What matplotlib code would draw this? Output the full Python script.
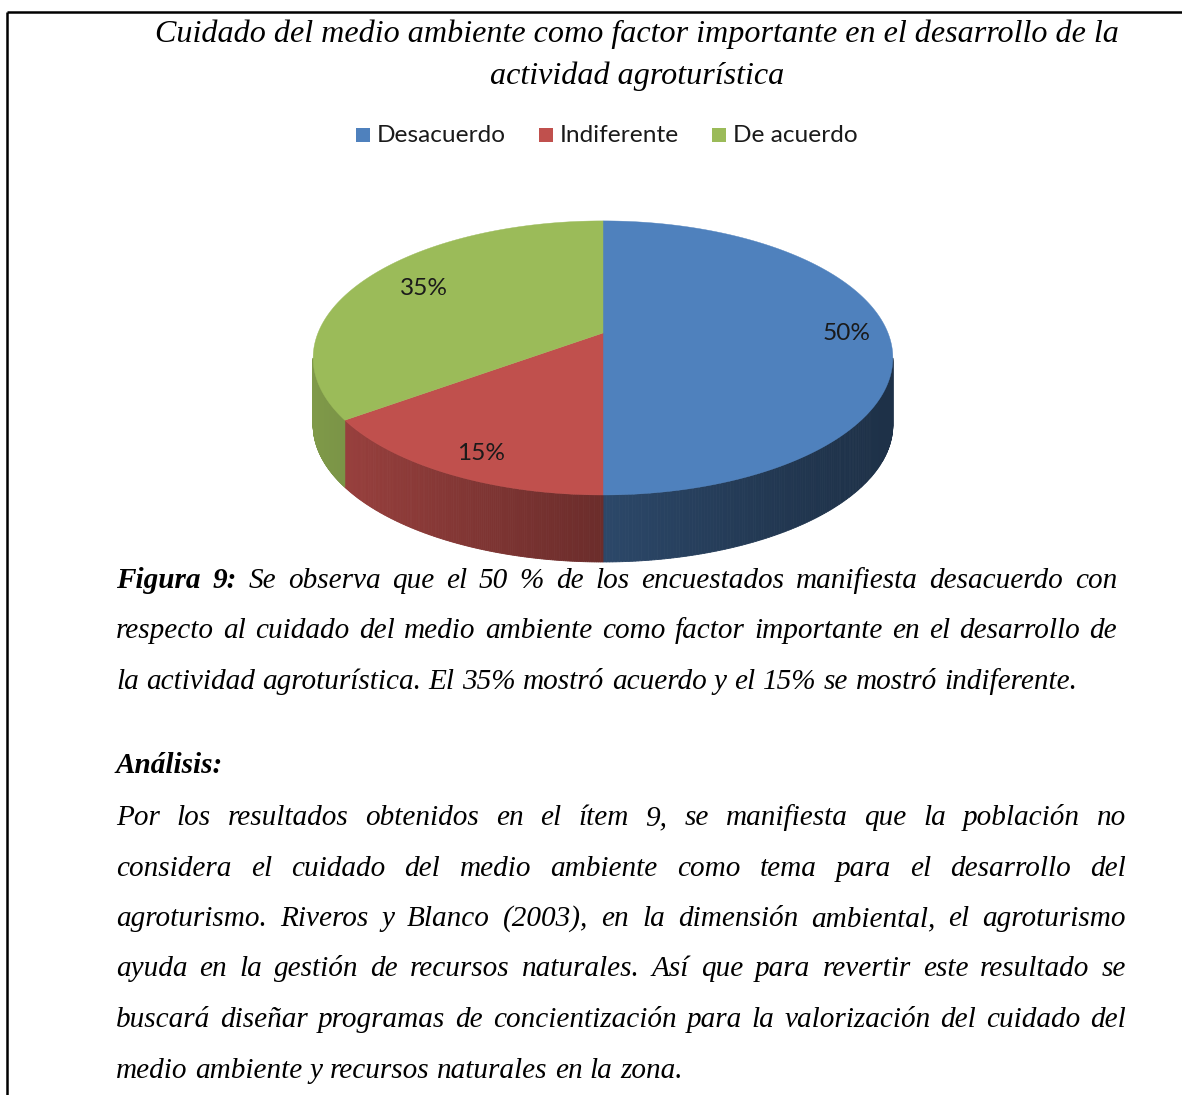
import numpy as np
import matplotlib
matplotlib.use("Agg")
import matplotlib.pyplot as plt
from matplotlib.patches import Polygon, Rectangle
from matplotlib.colors import to_rgb

# Chart data
categories = ["Desacuerdo", "Indiferente", "De acuerdo"]
percentages = [50, 15, 35]
slice_colors = ["#4F81BD", "#C0504D", "#9BBB59"]

title_lines = ["Cuidado del medio ambiente como factor importante en el desarrollo de la",
               "actividad agroturística"]

caption_lines = [
    "Figura 9: Se observa que el 50 % de los encuestados manifiesta desacuerdo con",
    "respecto al cuidado del medio ambiente como factor importante en el desarrollo de",
    "la actividad agroturística. El 35% mostró acuerdo y el 15% se mostró indiferente.",
]
analysis_head = "Análisis:"
analysis_lines = [
    "Por los resultados obtenidos en el ítem 9, se manifiesta que la población  no",
    "considera el cuidado del medio ambiente como tema  para el desarrollo del",
    "agroturismo. Riveros y Blanco (2003), en la dimensión ambiental, el agroturismo",
    "ayuda en la gestión de recursos naturales. Así que para revertir este resultado  se",
    "buscará diseñar programas de concientización para la valorización del cuidado del",
    "medio ambiente y recursos naturales en la zona.",
]

W, H = 1182, 1095
fig = plt.figure(figsize=(W / 100, H / 100), dpi=100)
ax = fig.add_axes([0, 0, 1, 1])
ax.set_xlim(0, W)
ax.set_ylim(H, 0)
ax.axis("off")
renderer = fig.canvas.get_renderer()

SERIF = "Liberation Serif"
SANS = "Lato"
BODY = 21.1

# frame lines of the page box
ax.plot([7, W], [12, 12], color="black", lw=1.8, solid_capstyle="butt")
ax.plot([7, 7], [12, H], color="black", lw=1.8, solid_capstyle="butt")

# title
for i, line in enumerate(title_lines):
    ax.text(637, 42 + 42 * i, line, family=SERIF, style="italic", fontsize=23.1,
            ha="center", va="baseline", color="black")

# legend
lx = 356
for cat, col in zip(categories, slice_colors):
    ax.add_patch(Rectangle((lx, 128), 13.5, 13.5, fc=col, ec="none"))
    t = ax.text(lx + 21, 135, cat, family=SANS, fontsize=17.6, ha="left",
                va="center", color="#1a1a1a")
    lx = lx + 21 + t.get_window_extent(renderer).width + 33

# 3D pie (perspective ellipse)
cx, cy = 603, 333
A, B, p = 285, 132.5, 0.182
depth = 67


def project(theta, r=1.0):
    u = r * np.sin(theta)
    v = -r * np.cos(theta)
    d = 1 - p * v
    return cx + A * u / d, cy + B * v / d


angles = np.concatenate([[0], np.cumsum(percentages)]) / sum(percentages) * 2 * np.pi
t_lo = np.arccos(-p)
t_hi = 2 * np.pi - t_lo
x_left, x_right = project(t_hi)[0], project(t_lo)[0]

for i in range(len(percentages)):
    base = np.array(to_rgb(slice_colors[i]))
    # side wall, shaded darker toward the right
    a0, a1 = max(angles[i], t_lo), min(angles[i + 1], t_hi)
    if a1 > a0:
        t = np.linspace(a0, a1, 150)
        xs, ys = project(t)
        for j in range(len(t) - 1):
            quad = [(xs[j], ys[j]), (xs[j + 1], ys[j + 1]),
                    (xs[j + 1], ys[j + 1] + depth), (xs[j], ys[j] + depth)]
            frac = (x_right - (xs[j] + xs[j + 1]) / 2) / (x_right - x_left)
            f = 0.38 + 0.44 * frac ** 1.3
            c = np.clip(base * f, 0, 1)
            ax.add_patch(Polygon(quad, closed=True, fc=c, ec=c, lw=0.6, zorder=2))
    # top face
    t = np.linspace(angles[i], angles[i + 1], 200)
    xs, ys = project(t)
    pts = np.column_stack([np.r_[cx, xs], np.r_[cy, ys]])
    ax.add_patch(Polygon(pts, closed=True, fc=slice_colors[i], ec=slice_colors[i],
                         lw=0.3, zorder=3))
    # percentage label, pushed a bit further out toward the front
    mid = (angles[i] + angles[i + 1]) / 2
    lxp, lyp = project(mid, 0.82 - 0.06 * np.cos(mid))
    ax.text(lxp + 10, lyp, f"{percentages[i]}%", family=SANS, fontsize=17.6,
            ha="center", va="center", color="#1a1a1a", zorder=4)


# justified body text
def draw_line(line, y, x0, x1, justify=True, bold_words=0, size=BODY):
    words = line.split()
    objs = []
    for k, w in enumerate(words):
        weight = "bold" if k < bold_words else "normal"
        objs.append(ax.text(0, y, w, family=SERIF, style="italic", weight=weight,
                            fontsize=size, ha="left", va="baseline", color="black"))
    widths = [o.get_window_extent(renderer).width for o in objs]
    t1 = ax.text(0, y, "a a", family=SERIF, style="italic", fontsize=size)
    t2 = ax.text(0, y, "aa", family=SERIF, style="italic", fontsize=size)
    sp = t1.get_window_extent(renderer).width - t2.get_window_extent(renderer).width
    t1.remove()
    t2.remove()
    if justify and len(words) > 1:
        gap = (x1 - x0 - sum(widths)) / (len(words) - 1)
    else:
        gap = sp
    x = x0
    for o, w in zip(objs, widths):
        o.set_x(x)
        x += w + gap


for i, line in enumerate(caption_lines):
    draw_line(line, 588 + 50.5 * i, 116, 1117, justify=i < len(caption_lines) - 1,
              bold_words=2 if i == 0 else 0)

ax.text(116, 773, analysis_head, family=SERIF, style="italic", weight="bold",
        fontsize=BODY, ha="left", va="baseline", color="black")

for i, line in enumerate(analysis_lines):
    draw_line(line, 825 + 50.5 * i, 116, 1126, justify=i < len(analysis_lines) - 1)

fig.savefig("out.png", dpi=100)
